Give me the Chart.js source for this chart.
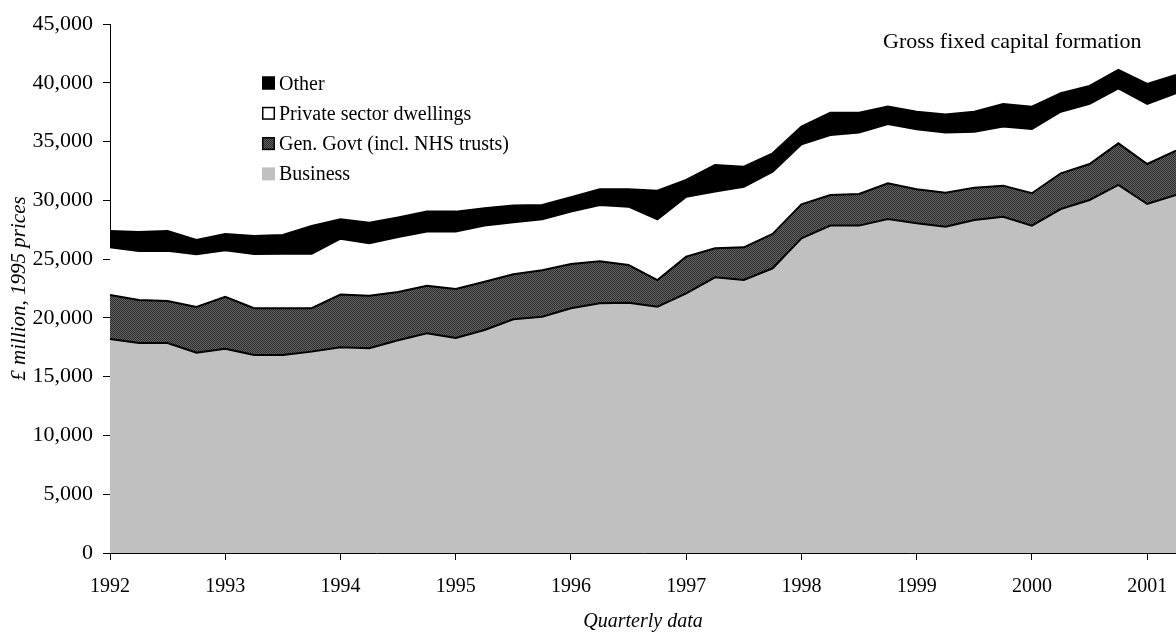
<!DOCTYPE html>
<html>
<head>
<meta charset="utf-8">
<title>Gross fixed capital formation</title>
<script src="https://cdn.jsdelivr.net/npm/chart.js@4"></script>
<style>
  html, body { margin: 0; padding: 0; background: #fff; }
  #wrap { width: 1176px; height: 634px; position: relative; }
</style>
</head>
<body>
<div id="wrap"><canvas id="gfcf"></canvas></div>
<script>
// Quarterly GFCF by sector, £ million at 1995 prices (stacked)
const quarters = [
  '1992 Q1', '1992 Q2', '1992 Q3', '1992 Q4', '1993 Q1', '1993 Q2', '1993 Q3', '1993 Q4',
  '1994 Q1', '1994 Q2', '1994 Q3', '1994 Q4', '1995 Q1', '1995 Q2', '1995 Q3', '1995 Q4',
  '1996 Q1', '1996 Q2', '1996 Q3', '1996 Q4', '1997 Q1', '1997 Q2', '1997 Q3', '1997 Q4',
  '1998 Q1', '1998 Q2', '1998 Q3', '1998 Q4', '1999 Q1', '1999 Q2', '1999 Q3', '1999 Q4',
  '2000 Q1', '2000 Q2', '2000 Q3', '2000 Q4', '2001 Q1', '2001 Q2'
];
const yearLabels = ['1992', '1993', '1994', '1995', '1996', '1997', '1998', '1999', '2000', '2001'];

const business = [
  18200, 17870, 17870, 17040, 17380, 16840, 16840, 17130, 17500, 17410,
  18100, 18690, 18300, 18970, 19880, 20100, 20820, 21240, 21290, 20950,
  22090, 23450, 23220, 24220, 26770, 27850, 27850, 28410, 28050, 27760,
  28330, 28610, 27850, 29260, 30030, 31310, 29690, 30460
];
const genGovt = [
  3750, 3650, 3570, 3890, 4420, 3980, 3980, 3690, 4480, 4480,
  4100, 4050, 4160, 4110, 3830, 3950, 3770, 3570, 3210, 2270,
  3120, 2470, 2780, 2920, 2890, 2610, 2690, 3040, 2890, 2890,
  2750, 2640, 2750, 3040, 3060, 3540, 3400, 3760
];
const privateDwellings = [
  4050, 4170, 4280, 4480, 3950, 4620, 4640, 4640, 4760, 4460,
  4680, 4600, 4880, 4770, 4420, 4340, 4450, 4790, 4960, 5170,
  5100, 4820, 5160, 5300, 5110, 5100, 5220, 5050, 5100, 5110,
  4760, 5020, 5470, 5240, 5110, 4680, 5110, 4890
];
const other = [
  1390, 1610, 1680, 1220, 1390, 1530, 1590, 2360, 1650, 1750,
  1670, 1700, 1700, 1470, 1420, 1210, 1220, 1340, 1480, 2430,
  1420, 2270, 1700, 1560, 1500, 1900, 1700, 1470, 1500, 1540,
  1700, 1930, 1900, 1570, 1530, 1560, 1700, 1550
];

const SERIF = '"Liberation Serif", "Times New Roman", serif';

const canvas = document.getElementById('gfcf');
const ctx = canvas.getContext('2d');

// fine dark checker fill for the government band
function makeHatch() {
  const p = document.createElement('canvas');
  p.width = 2; p.height = 2;
  const pc = p.getContext('2d');
  pc.fillStyle = '#666666';
  pc.fillRect(0, 0, 2, 2);
  pc.fillStyle = '#2a2a2a';
  pc.fillRect(0, 0, 1, 1);
  pc.fillRect(1, 1, 1, 1);
  return ctx.createPattern(p, 'repeat');
}
const hatch = makeHatch();

const legendItems = [
  { text: 'Other', fill: '#000', stroke: '#000' },
  { text: 'Private sector dwellings', fill: '#fff', stroke: '#000' },
  { text: 'Gen. Govt (incl. NHS trusts)', fill: hatch, stroke: '#000' },
  { text: 'Business', fill: '#c0c0c0', stroke: null }
];

// legend block and the heading, drawn inside the plot
const annotations = {
  id: 'annotations',
  afterDraw(chart) {
    const c = chart.ctx;
    c.save();
    c.fillStyle = '#000';
    c.textBaseline = 'alphabetic';
    c.textAlign = 'left';
    c.font = '22px ' + SERIF;
    c.fillText('Gross fixed capital formation', 883, 48);

    c.font = '20px ' + SERIF;
    legendItems.forEach((item, i) => {
      const cy = 83 + i * 30.3;
      c.fillStyle = item.fill;
      c.fillRect(262, cy - 6.5, 13, 13);
      if (item.stroke) {
        c.strokeStyle = item.stroke;
        c.lineWidth = 1.5;
        c.strokeRect(262.75, cy - 5.75, 11.5, 11.5);
      }
      c.fillStyle = '#000';
      c.fillText(item.text, 279, cy + 6.5);
    });
    c.restore();
  }
};

const areaDefaults = {
  borderColor: '#000',
  borderWidth: 2,
  pointRadius: 0,
  pointHoverRadius: 0,
  tension: 0
};

new Chart(ctx, {
  type: 'line',
  data: {
    labels: quarters,
    datasets: [
      { ...areaDefaults, label: 'Business', data: business, backgroundColor: '#c0c0c0', fill: 'origin' },
      { ...areaDefaults, label: 'Gen. Govt (incl. NHS trusts)', data: genGovt, backgroundColor: hatch, fill: '-1' },
      { ...areaDefaults, label: 'Private sector dwellings', data: privateDwellings, backgroundColor: '#fff', fill: '-1' },
      { ...areaDefaults, label: 'Other', data: other, backgroundColor: '#000', fill: '-1' }
    ]
  },
  options: {
    responsive: true,
    maintainAspectRatio: false,
    animation: false,
    layout: { padding: { top: 24, right: 0, left: 0, bottom: 0 } },
    plugins: {
      legend: { display: false },
      tooltip: { enabled: false }
    },
    scales: {
      x: {
        type: 'category',
        offset: false,
        grid: {
          drawOnChartArea: false,
          drawTicks: true,
          tickLength: 7,
          color: (c) => (c.index % 4 === 0 ? '#000' : 'rgba(0,0,0,0)')
        },
        border: { display: true, color: '#000', width: 1 },
        ticks: {
          autoSkip: false,
          maxRotation: 0,
          padding: 15,
          color: '#000',
          font: { family: SERIF, size: 20 },
          callback: (v, i) => (i % 4 === 0 ? yearLabels[i / 4] : '')
        },
        title: {
          display: true,
          text: 'Quarterly data',
          color: '#000',
          font: { family: SERIF, size: 20, style: 'italic' },
          padding: { top: 0, bottom: 0 }
        },
        afterFit: (s) => {
          s.height = 81;
          s.paddingLeft = 0;
          s.paddingRight = 0;
        }
      },
      y: {
        stacked: true,
        min: 0,
        max: 45000,
        grid: {
          drawOnChartArea: false,
          drawTicks: true,
          tickLength: 7,
          color: '#000'
        },
        border: { display: true, color: '#000', width: 1 },
        ticks: {
          stepSize: 5000,
          padding: 10,
          color: '#000',
          font: { family: SERIF, size: 22 },
          callback: (v) => v.toLocaleString('en-US')
        },
        title: {
          display: true,
          text: '£ million, 1995 prices',
          color: '#000',
          font: { family: SERIF, size: 21, style: 'italic' },
          padding: { top: 7, bottom: 0 }
        },
        afterFit: (s) => { s.width = 110; }
      }
    }
  },
  plugins: [annotations]
});
</script>
</body>
</html>
